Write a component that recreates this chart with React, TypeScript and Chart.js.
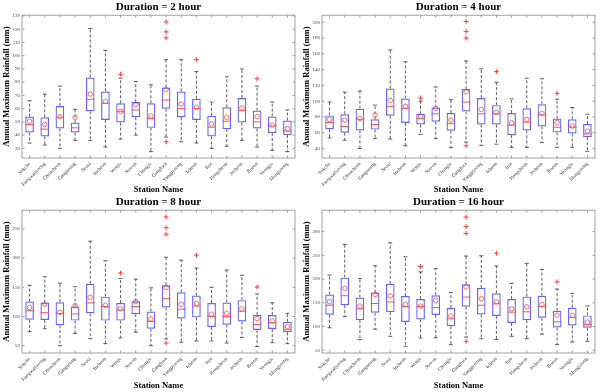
import React, { useEffect, useRef } from 'react';
import { Chart, registerables } from 'chart.js';

Chart.register(...registerables);

const FONT = "'Liberation Serif', 'Times New Roman', serif";

const stations = [
  'Sokcho', 'Daegwallyeong', 'Chuncheon', 'Gangneung', 'Seoul', 'Incheon', 'Wonju', 'Suwon', 'Chungju',
  'Ganghwa', 'Yangpyeong', 'Icheon', 'Inje', 'Hongcheon', 'Jecheon', 'Boeun', 'Yeongju', 'Mungyeong',
];

// ---- Duration = 2 hour ----
const yTicks2 = [30, 40, 50, 60, 70, 80, 90, 100, 110, 120, 130];
const whiHi2 = [66, 71, 77, 59.5, 120.5, 104, 83, 80.5, 78, 97, 97, 88, 65, 84, 90, 77, 65, 59];
const q3_2 = [54, 53.5, 62, 49.5, 83.5, 73, 64, 65, 64, 76, 73, 67.5, 54.5, 61, 68, 58.5, 54, 51];
const med2 = [48, 44.5, 53.5, 45.5, 67, 64, 58, 59, 52.5, 66.5, 60, 60, 46, 50.5, 58.5, 50, 47, 43];
const mean2 = [50.5, 48, 54, 53.5, 71, 65.5, 58, 63, 54.5, 74.5, 63.5, 61, 48.5, 53.5, 60.5, 54, 47.5, 45];
const q1_2 = [42, 39, 45, 42, 58, 51.5, 49.5, 53.5, 45.5, 60, 53.5, 51.5, 39, 44.5, 49.5, 45, 41.5, 40];
const whiLo2 = [34, 32.5, 30, 36, 36, 31, 37, 40, 27.5, 38.5, 35, 34, 30, 31.5, 36, 31, 28.5, 27.5];
const outIdx2 = [6, 9, 9, 9, 9, 11, 15];
const outVal2 = [86, 125.5, 118, 113.5, 35, 97, 82.5];

// ---- Duration = 4 hour ----
const yTicks4 = [40, 60, 80, 100, 120, 140, 160, 180, 200];
const whiHi4 = [99, 111.5, 113, 95, 165, 150, 100, 118, 102, 151, 141, 124, 103, 129, 128.5, 102.5, 92, 83.5];
const q3_4 = [82, 83.5, 90.5, 77, 116, 103.5, 84, 92, 85, 115.5, 104, 95, 85, 91, 96, 78, 77, 71];
const med4 = [73, 68, 77, 70.5, 93.5, 91, 78, 84, 71.5, 99, 84, 84, 69.5, 73.5, 82.5, 67, 67, 58.5];
const mean4 = [77, 76, 78, 82.5, 101, 93.5, 81, 91, 76, 112, 89.5, 86, 72.5, 77, 84.5, 73, 68.5, 62];
const q1_4 = [64.5, 60, 63, 64, 81.5, 72.5, 70.5, 74, 62.5, 87, 70.5, 70.5, 57, 63, 68, 60.5, 59, 54.5];
const whiLo4 = [53.5, 50.5, 40, 52.5, 52, 43.5, 58, 52.5, 41, 48, 44, 45.5, 41.5, 41.5, 47.5, 41.5, 41.5, 36.5];
const outIdx4 = [6, 9, 9, 9, 9, 11, 15];
const outVal4 = [104, 201, 188.5, 180, 43.5, 137.5, 110];

// ---- Duration = 8 hour ----
const yTicks8 = [50, 100, 150, 200, 250];
const whiHi8 = [153.5, 168, 157, 151, 229, 195.5, 165, 164, 149, 201.5, 196.5, 183, 150, 179.5, 170.5, 138.5, 123.5, 105.5];
const q3_8 = [125.5, 124, 124.5, 117, 156, 134, 123, 126, 108.5, 153.5, 141.5, 136, 123, 124, 128, 103, 102.5, 91];
const med8 = [110, 106.5, 105, 104.5, 123.5, 117, 111, 117, 91.5, 130.5, 112.5, 118, 100, 100, 109, 86.5, 89, 77.5];
const mean8 = [115.5, 121, 107, 118.5, 133, 119, 113.5, 125.5, 96, 149.5, 121, 122, 104, 105.5, 113, 96.5, 92.5, 82.5];
const q1_8 = [94.5, 94, 85, 93, 105.5, 93, 93, 104, 79, 115.5, 96.5, 98.5, 82, 86, 91.5, 77, 78.5, 73];
const whiLo8 = [74, 79, 50, 71, 62, 53.5, 63.5, 73, 50, 61.5, 56, 58, 58, 54.5, 64, 48.5, 55, 53.5];
const outIdx8 = [6, 9, 9, 9, 9, 11, 15];
const outVal8 = [174.5, 270.5, 252, 241, 54.5, 205, 150.5];

// ---- Duration = 16 hour ----
const yTicks16 = [50, 100, 150, 200, 250, 300];
const whiHi16 = [208.5, 273, 201, 228, 276.5, 247, 215, 222, 171.5, 248.5, 249, 227.5, 191, 233, 220.5, 179, 170, 143.5];
const q3_16 = [167.5, 203, 161, 171.5, 190, 164.5, 158, 166, 139, 189, 181.5, 170, 158, 163, 165, 133, 139.5, 123.5];
const med16 = [145, 165, 137.5, 148.5, 152, 142, 142, 140, 116.5, 162, 145, 148, 130.5, 131, 142, 110, 119, 104];
const mean16 = [152.5, 180.5, 143, 167.5, 164.5, 147, 143, 155.5, 122.5, 183.5, 159, 152.5, 137.5, 141.5, 146.5, 124, 123.5, 109.5];
const q1_16 = [125, 145, 113.5, 129, 130.5, 109.5, 115, 124.5, 101, 142, 125.5, 122.5, 107.5, 113.5, 118.5, 98, 102.5, 97.5];
const whiLo16 = [97.5, 121, 72.5, 94.5, 79.5, 58.5, 76, 76.5, 62, 78, 74.5, 73, 79.5, 74.5, 84, 62, 67.5, 69];
const outIdx16 = [6, 9, 9, 9, 9, 11, 15];
const outVal16 = [226.5, 330.5, 311, 296, 69, 254.5, 194];

type Spec = {
  title: string;
  yMin: number;
  yMax: number;
  yTicks: number[];
  hi: number[];
  q3: number[];
  med: number[];
  mean: number[];
  q1: number[];
  lo: number[];
  outIdx: number[];
  outVal: number[];
};

const specs: Spec[] = [
  { title: 'Duration = 2 hour', yMin: 22.7, yMax: 130.6, yTicks: yTicks2, hi: whiHi2, q3: q3_2, med: med2, mean: mean2, q1: q1_2, lo: whiLo2, outIdx: outIdx2, outVal: outVal2 },
  { title: 'Duration = 4 hour', yMin: 28, yMax: 209, yTicks: yTicks4, hi: whiHi4, q3: q3_4, med: med4, mean: mean4, q1: q1_4, lo: whiLo4, outIdx: outIdx4, outVal: outVal4 },
  { title: 'Duration = 8 hour', yMin: 37.5, yMax: 282, yTicks: yTicks8, hi: whiHi8, q3: q3_8, med: med8, mean: mean8, q1: q1_8, lo: whiLo8, outIdx: outIdx8, outVal: outVal8 },
  { title: 'Duration = 16 hour', yMin: 44.4, yMax: 345, yTicks: yTicks16, hi: whiHi16, q3: q3_16, med: med16, mean: mean16, q1: q1_16, lo: whiLo16, outIdx: outIdx16, outVal: outVal16 },
];

const boxExtras = {
  id: 'boxExtras',
  beforeDatasetsDraw(chart: any, _args: any, o: any) {
    const { ctx, scales } = chart;
    const x = scales.x;
    const y = scales.y;
    ctx.save();
    ctx.strokeStyle = '#333';
    ctx.lineWidth = 0.8;
    ctx.setLineDash([3, 2]);
    ctx.beginPath();
    for (let i = 0; i < o.hi.length; i++) {
      const px = x.getPixelForValue(i);
      ctx.moveTo(px, y.getPixelForValue(o.q3[i]));
      ctx.lineTo(px, y.getPixelForValue(o.hi[i]));
      ctx.moveTo(px, y.getPixelForValue(o.q1[i]));
      ctx.lineTo(px, y.getPixelForValue(o.lo[i]));
    }
    ctx.stroke();
    ctx.setLineDash([]);
    ctx.beginPath();
    for (let i = 0; i < o.hi.length; i++) {
      const px = x.getPixelForValue(i);
      const a = y.getPixelForValue(o.hi[i]);
      const b = y.getPixelForValue(o.lo[i]);
      ctx.moveTo(px - 2, a);
      ctx.lineTo(px + 2, a);
      ctx.moveTo(px - 2, b);
      ctx.lineTo(px + 2, b);
    }
    ctx.stroke();
    ctx.restore();
  },
  afterDatasetsDraw(chart: any, _args: any, o: any) {
    const { ctx, scales } = chart;
    const x = scales.x;
    const y = scales.y;
    const meta = chart.getDatasetMeta(0);
    ctx.save();
    ctx.strokeStyle = 'rgb(255,80,80)';
    ctx.lineWidth = 1;
    ctx.beginPath();
    for (let i = 0; i < o.med.length; i++) {
      const px = x.getPixelForValue(i);
      const w = meta.data[i] ? meta.data[i].width : 8;
      const py = y.getPixelForValue(o.med[i]);
      ctx.moveTo(px - w / 2, py);
      ctx.lineTo(px + w / 2, py);
    }
    ctx.stroke();
    ctx.restore();
  },
  afterDraw(chart: any, _args: any, o: any) {
    const { ctx, chartArea, scales } = chart;
    const x = scales.x;
    const y = scales.y;
    const { left, right, top, bottom } = chartArea;
    ctx.save();
    ctx.strokeStyle = '#8a8a8a';
    ctx.lineWidth = 0.8;
    ctx.strokeRect(left, top, right - left, bottom - top);
    ctx.beginPath();
    const tl = 2.5;
    for (let i = 0; i < o.hi.length; i++) {
      const px = x.getPixelForValue(i);
      ctx.moveTo(px, top);
      ctx.lineTo(px, top + tl);
      ctx.moveTo(px, bottom);
      ctx.lineTo(px, bottom - tl);
    }
    for (const v of o.yTicks) {
      const py = y.getPixelForValue(v);
      ctx.moveTo(left, py);
      ctx.lineTo(left + tl, py);
      ctx.moveTo(right, py);
      ctx.lineTo(right - tl, py);
    }
    ctx.stroke();
    ctx.restore();
  },
};

function Panel({ spec, left, top, width, height }: { spec: Spec; left: number; top: number; width: number; height: number }) {
  const ref = useRef<HTMLCanvasElement>(null);
  useEffect(() => {
    const xH = height - 158;
    const outliers = spec.outIdx.map((idx, k) => ({ x: stations[idx], y: spec.outVal[k] }));
    const means = spec.mean.map((v, i) => ({ x: stations[i], y: v }));
    const chart = new Chart(ref.current as HTMLCanvasElement, {
      type: 'bar',
      data: {
        labels: stations,
        datasets: [
          {
            type: 'bar',
            data: spec.q1.map((v, i) => [v, spec.q3[i]]) as any,
            backgroundColor: 'rgba(0,0,0,0)',
            borderColor: 'rgba(70,70,255,0.85)',
            borderWidth: 1.2,
            borderSkipped: false,
            barPercentage: 0.57,
            categoryPercentage: 1,
          } as any,
          {
            type: 'scatter',
            data: means,
            pointStyle: 'circle',
            pointRadius: 2.3,
            pointBorderWidth: 0.9,
            pointBorderColor: 'rgb(255,90,90)',
            pointBackgroundColor: 'rgba(0,0,0,0)',
          } as any,
          {
            type: 'scatter',
            data: outliers,
            pointStyle: 'cross',
            pointRadius: 2.5,
            pointBorderWidth: 1,
            pointBorderColor: 'rgb(255,60,60)',
          } as any,
        ],
      },
      options: {
        responsive: false,
        animation: false,
        devicePixelRatio: 1,
        layout: { padding: { left: 0, right: 5, top: 0, bottom: 0 } },
        plugins: {
          legend: { display: false },
          tooltip: { enabled: false },
          title: {
            display: true,
            text: spec.title,
            fullSize: false,
            color: '#000',
            font: { family: FONT, size: 11, weight: 'bold' },
            padding: { top: 1, bottom: 1 },
          },
          boxExtras: {
            hi: spec.hi,
            lo: spec.lo,
            q1: spec.q1,
            q3: spec.q3,
            med: spec.med,
            yTicks: spec.yTicks,
          },
        } as any,
        scales: {
          x: {
            type: 'category',
            offset: true,
            grid: { display: false, drawTicks: false },
            border: { display: false },
            ticks: {
              autoSkip: false,
              minRotation: 45,
              maxRotation: 45,
              padding: 3,
              color: '#333',
              font: { family: FONT, size: 5 },
            },
            title: {
              display: true,
              text: 'Station Name',
              color: '#000',
              font: { family: FONT, size: 8.5, weight: 'bold' },
              padding: { top: 0, bottom: 1 },
            },
            afterFit: (s: any) => {
              s.height = xH;
            },
          },
          y: {
            type: 'linear',
            min: spec.yMin,
            max: spec.yMax,
            afterBuildTicks: (s: any) => {
              s.ticks = spec.yTicks.map((v) => ({ value: v }));
            },
            grid: { display: false, drawTicks: false },
            border: { display: false },
            ticks: {
              padding: 2,
              color: '#444',
              font: { family: FONT, size: 5 },
            },
            title: {
              display: true,
              text: 'Annual Maximum Rainfall (mm)',
              color: '#000',
              font: { family: FONT, size: 8.5, weight: 'bold' },
              padding: { top: 2, bottom: 0 },
            },
            afterFit: (s: any) => {
              s.width = 22;
            },
          },
        },
      } as any,
      plugins: [boxExtras as any],
    });
    return () => chart.destroy();
  }, []);
  return (
    <div style={{ position: 'absolute', left, top, width, height }}>
      <canvas ref={ref} width={width} height={height} style={{ display: 'block', width, height }} />
    </div>
  );
}

export default function App() {
  return (
    <div style={{ position: 'absolute', left: 0, top: 0, width: 600, height: 392, background: '#fff', overflow: 'hidden' }}>
      <Panel spec={specs[0]} left={0} top={0} width={300} height={196} />
      <Panel spec={specs[1]} left={300} top={0} width={300} height={196} />
      <Panel spec={specs[2]} left={0} top={195} width={300} height={197} />
      <Panel spec={specs[3]} left={300} top={195} width={300} height={197} />
    </div>
  );
}
